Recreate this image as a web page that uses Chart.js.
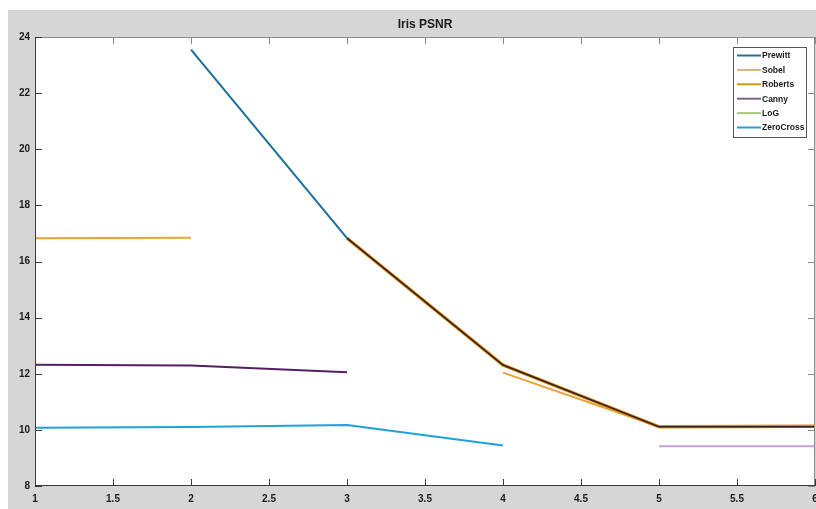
<!DOCTYPE html>
<html>
<head>
<meta charset="utf-8">
<script src="https://cdn.jsdelivr.net/npm/chart.js@4.4.1/dist/chart.umd.min.js"></script>
<style>
  html, body { margin: 0; padding: 0; background: #ffffff; }
  #wrap { width: 816px; height: 509px; }
</style>
</head>
<body>
<div id="wrap"><canvas id="c" width="816" height="509"></canvas></div>
<script>
// Sample positions on the x axis
const xValues = [1, 2, 3, 4, 5, 6];

// PSNR per edge detector (null = no value at that position)
const prewitt   = [null, 23.55, 16.83, 12.31, 10.11, 10.11];
const sobel     = [16.83, 16.85, null, 12.04, 10.11, 10.14];
const roberts   = [null, null, 16.83, 12.31, 10.11, 10.13];
const canny     = [12.32, 12.29, 12.05, null, 9.42, 9.42];
const logEdge   = [null, null, null, null, null, null];
const zeroCross = [10.08, 10.10, 10.17, 9.44, null, null];

// Axis ticks
const xTicks = [1, 1.5, 2, 2.5, 3, 3.5, 4, 4.5, 5, 5.5, 6];
const yTicks = [8, 10, 12, 14, 16, 18, 20, 22, 24];

const toPoints = arr => xValues.map((x, i) => ({ x: x, y: arr[i] }));

const datasets = [
  { label: 'Prewitt', data: toPoints(prewitt), borderColor: '#1c6f9c', legendColor: '#2b6f8c',
    borderWidth: 2, order: 1,
    segment: {
      borderColor: ctx => ctx.p0.parsed.x >= 3 ? '#35201a' : undefined,
      borderWidth: ctx => ctx.p0.parsed.x >= 3 ? 1.6 : undefined
    } },
  { label: 'Sobel', data: toPoints(sobel), borderColor: '#eba232', legendColor: '#d9b07e',
    borderWidth: 2, order: 4 },
  { label: 'Roberts', data: toPoints(roberts), borderColor: '#dc8a12', legendColor: '#c99a14',
    borderWidth: 3.4, order: 3 },
  { label: 'Canny', data: toPoints(canny), borderColor: '#54205f', legendColor: '#7c6486',
    borderWidth: 2, order: 2,
    segment: { borderColor: ctx => ctx.p0.parsed.x >= 5 ? '#c6a1d6' : undefined } },
  { label: 'LoG', data: toPoints(logEdge), borderColor: '#a9c77e', legendColor: '#a9c77e',
    borderWidth: 2, order: 5 },
  { label: 'ZeroCross', data: toPoints(zeroCross), borderColor: '#1ea2d9', legendColor: '#2a9fcf',
    borderWidth: 2, order: 0 }
];

const FIG_GRAY = '#d6d6d6';

// Figure background, axes box with inward ticks, title and legend
const figurePlugin = {
  id: 'figure',
  beforeDraw(chart) {
    const ctx = chart.ctx, a = chart.chartArea;
    ctx.save();
    ctx.fillStyle = '#ffffff';
    ctx.fillRect(0, 0, chart.width, chart.height);
    ctx.fillStyle = FIG_GRAY;
    ctx.fillRect(8, 10, chart.width - 8, chart.height - 10);
    ctx.fillStyle = '#ffffff';
    ctx.fillRect(a.left, a.top, a.right - a.left, a.bottom - a.top);
    ctx.restore();
  },
  afterDatasetsDraw(chart) {
    const ctx = chart.ctx, a = chart.chartArea;
    const xs = chart.scales.x, ys = chart.scales.y;
    const tl = 7;
    ctx.save();
    ctx.lineWidth = 1;
    // top and right edges (lighter)
    ctx.strokeStyle = '#8a8a8a';
    ctx.beginPath();
    ctx.moveTo(a.left, a.top + 0.5); ctx.lineTo(a.right, a.top + 0.5);
    ctx.moveTo(a.right - 0.5, a.top); ctx.lineTo(a.right - 0.5, a.bottom);
    xTicks.forEach(v => { const p = Math.round(xs.getPixelForValue(v)) + 0.5; ctx.moveTo(p, a.top); ctx.lineTo(p, a.top + tl); });
    yTicks.forEach(v => { const p = Math.round(ys.getPixelForValue(v)) + 0.5; ctx.moveTo(a.right, p); ctx.lineTo(a.right - tl, p); });
    ctx.stroke();
    // bottom and left edges (darker)
    ctx.strokeStyle = '#3a3a3a';
    ctx.beginPath();
    ctx.moveTo(a.left, a.bottom - 0.5); ctx.lineTo(a.right, a.bottom - 0.5);
    ctx.moveTo(a.left + 0.5, a.top); ctx.lineTo(a.left + 0.5, a.bottom);
    xTicks.forEach(v => { const p = Math.round(xs.getPixelForValue(v)) + 0.5; ctx.moveTo(p, a.bottom); ctx.lineTo(p, a.bottom - tl); });
    yTicks.forEach(v => { const p = Math.round(ys.getPixelForValue(v)) + 0.5; ctx.moveTo(a.left, p); ctx.lineTo(a.left + tl, p); });
    ctx.stroke();

    // title
    ctx.fillStyle = '#1a1a1a';
    ctx.font = 'bold 12px "Liberation Sans", Arial, sans-serif';
    ctx.textAlign = 'center';
    ctx.textBaseline = 'middle';
    ctx.fillText('Iris PSNR', (a.left + a.right) / 2, 25);

    // legend box
    const bx = 733.5, by = 47.5, bw = 73, bh = 90;
    ctx.fillStyle = '#ffffff';
    ctx.fillRect(bx, by, bw, bh);
    ctx.strokeStyle = '#555555';
    ctx.strokeRect(bx, by, bw, bh);
    ctx.font = 'bold 8.5px "Liberation Sans", Arial, sans-serif';
    ctx.textAlign = 'left';
    chart.data.datasets.forEach((ds, i) => {
      const yy = 55.5 + i * 14.4;
      ctx.strokeStyle = ds.legendColor;
      ctx.lineWidth = 2;
      ctx.beginPath();
      ctx.moveTo(737, yy); ctx.lineTo(761, yy);
      ctx.stroke();
      ctx.fillStyle = '#1a1a1a';
      ctx.fillText(ds.label, 762, yy + 0.5);
    });
    ctx.restore();
  }
};

const tickFont = { family: '"Liberation Sans", Arial, sans-serif', size: 10, weight: 'bold' };

new Chart(document.getElementById('c'), {
  type: 'line',
  data: { datasets: datasets },
  options: {
    responsive: false,
    animation: false,
    spanGaps: false,
    layout: { padding: { left: 8, top: 37, right: 1, bottom: 0 } },
    elements: { point: { radius: 0 }, line: { tension: 0 } },
    plugins: { legend: { display: false }, tooltip: { enabled: false }, title: { display: false } },
    scales: {
      x: {
        type: 'linear', min: 1, max: 6,
        afterBuildTicks: s => { s.ticks = xTicks.map(v => ({ value: v })); },
        afterFit: s => { s.height = 23; s.paddingLeft = 0; s.paddingRight = 0; },
        grid: { display: false, drawTicks: false },
        border: { display: false },
        ticks: {
          padding: 7, maxRotation: 0, autoSkip: false, color: '#1a1a1a', font: tickFont,
          callback: v => String(v)
        }
      },
      y: {
        type: 'linear', min: 8, max: 24,
        afterBuildTicks: s => { s.ticks = yTicks.map(v => ({ value: v })); },
        afterFit: s => { s.width = 27; s.paddingTop = 0; s.paddingBottom = 0; },
        grid: { display: false, drawTicks: false },
        border: { display: false },
        ticks: {
          padding: 5, color: '#1a1a1a', font: tickFont,
          callback: v => String(v)
        }
      }
    }
  },
  plugins: [figurePlugin]
});
</script>
</body>
</html>
